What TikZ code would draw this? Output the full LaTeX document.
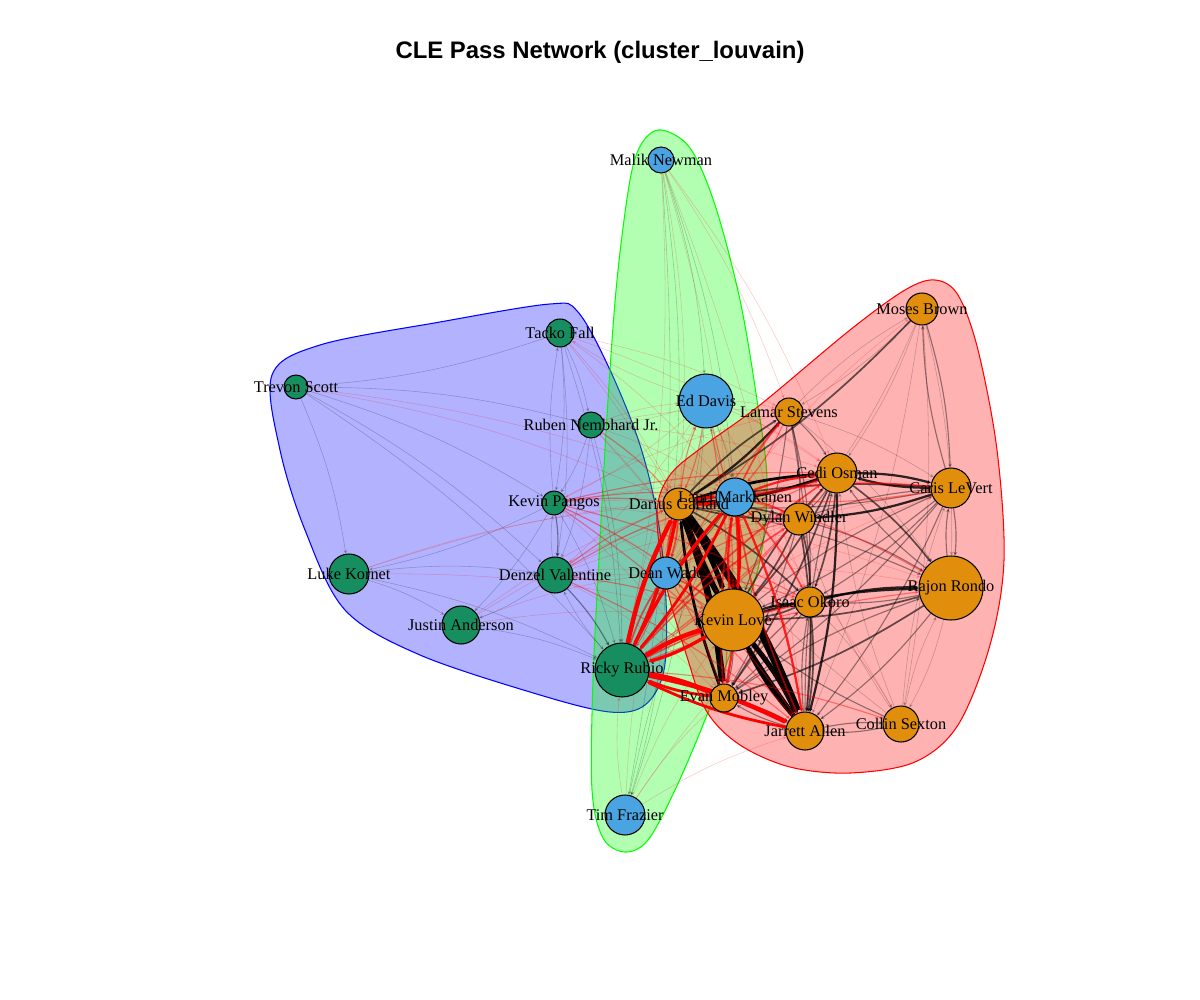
\documentclass[tikz,border=0pt]{standalone}
\usepackage{fontspec}
\setmainfont{Liberation Serif}
\newfontfamily\titlefont{Liberation Sans}
\usetikzlibrary{arrows.meta}
\definecolor{cOrange}{HTML}{E08E0B}
\definecolor{cBlue}{HTML}{4AA4E2}
\definecolor{cGreen}{HTML}{168E60}
\pgfdeclarelayer{hulls}
\pgfdeclarelayer{edges}
\pgfdeclarelayer{labels}
\pgfsetlayers{hulls,edges,main,labels}

\def\players{%
newman/661/160/13/cBlue/Malik Newman,
davis/706/401/27/cBlue/Ed Davis,
markkanen/735/497/19/cBlue/Lauri Markkanen,
wade/666/573/16/cBlue/Dean Wade,
frazier/625/815/20/cBlue/Tim Frazier,
stevens/789/412/14/cOrange/Lamar Stevens,
brown/922/309/16/cOrange/Moses Brown,
osman/837/473/20/cOrange/Cedi Osman,
levert/951/488/20/cOrange/Caris LeVert,
garland/679/504/16/cOrange/Darius Garland,
windler/799/519/16/cOrange/Dylan Windler,
rondo/951/588/32/cOrange/Rajon Rondo,
okoro/810/602/15/cOrange/Isaac Okoro,
love/733/620/31/cOrange/Kevin Love,
mobley/724/698/14/cOrange/Evan Mobley,
allen/805/731/19/cOrange/Jarrett Allen,
sexton/901/724/18/cOrange/Collin Sexton,
rubio/622/670/27/cGreen/Ricky Rubio,
fall/560/333/14/cGreen/Tacko Fall,
scott/296/387/12/cGreen/Trevon Scott,
nembhard/591/425/13/cGreen/Ruben Nembhard Jr.,
pangos/554/503/12/cGreen/Kevin Pangos,
kornet/349/574/20/cGreen/Luke Kornet,
valentine/555/575/18/cGreen/Denzel Valentine,
anderson/461/625/19/cGreen/Justin Anderson}

\begin{document}
\begin{tikzpicture}[x=0.02cm, y=-0.02cm,
  player/.style={circle, draw=black, line width=0.6pt, inner sep=0pt},
  tag/.style={font=\fontsize{9.3}{11}\selectfont, inner sep=0pt},
  pass/.style={-{Stealth[length=2.2pt,width=2pt]}, bend left=7},
  hull/.style={line width=0.6pt, fill opacity=0.3}]
\useasboundingbox (0,0) rectangle (1200,1000);

\node[font=\titlefont\bfseries\fontsize{13.6}{16}\selectfont] (title) at (600,52)
  {CLE Pass Network (cluster\_louvain)};

% players
\foreach \n/\x/\y/\r/\c/\t in \players
  \node[player, fill=\c, minimum size=\r*0.04cm] (\n) at (\x,\y) {};

\begin{pgfonlayer}{labels}
\foreach \n/\x/\y/\r/\c/\t in \players
  \node[tag] (\n-tag) at (\n) {\t};
\end{pgfonlayer}

% cluster hulls
\begin{pgfonlayer}{hulls}
\filldraw[hull, draw=blue, fill=blue] plot[smooth cycle, tension=0.55] coordinates
  {(272,375) (320,345) (440,322) (550,304) (578,312) (610,370) (640,445) (658,520)
   (666,600) (664,670) (645,705) (610,712) (540,695) (420,655) (345,610) (305,530) (280,450)};
\filldraw[hull, draw=green, fill=green] plot[smooth cycle, tension=0.55] coordinates
  {(661,130) (690,148) (715,205) (740,300) (757,400) (767,480) (760,560) (735,640)
   (705,720) (675,790) (648,840) (625,852) (603,838) (592,790) (593,680) (600,540)
   (608,400) (617,280) (630,180) (642,143)};
\filldraw[hull, draw=red, fill=red] plot[smooth cycle, tension=0.55] coordinates
  {(935,280) (958,295) (978,350) (997,450) (1004,560) (990,645) (958,725) (915,762)
   (850,773) (790,767) (740,745) (707,712) (688,660) (665,580) (657,512) (670,475)
   (705,445) (760,405) (850,330) (905,290)};
\end{pgfonlayer}

\begin{pgfonlayer}{edges}
% passes inside a cluster
\foreach \a/\b/\w [evaluate=\w as \lw using 0.32*\w,
                   evaluate=\w as \op using {min(1,0.02+0.2*\w)}] in {
  garland/allen/15, allen/garland/8, garland/mobley/12, mobley/garland/5,
  garland/love/9, love/garland/6, love/allen/9, allen/love/5,
  osman/garland/5, garland/osman/5, stevens/garland/4, garland/stevens/3,
  brown/garland/3, love/okoro/4, okoro/love/3, love/rondo/4, rondo/love/3,
  okoro/rondo/4, rondo/okoro/2, osman/levert/4, levert/osman/4,
  levert/windler/4, windler/levert/2, osman/allen/4, allen/osman/2,
  osman/okoro/3, osman/mobley/3, osman/love/3, love/osman/3,
  windler/allen/3, windler/okoro/3, windler/rondo/2, okoro/allen/3,
  allen/okoro/2, rondo/allen/2, rondo/mobley/3, levert/rondo/2, rondo/levert/2,
  levert/allen/2, levert/okoro/2, levert/mobley/2, levert/love/2,
  sexton/allen/2, allen/sexton/2, sexton/rondo/1, sexton/love/2, sexton/osman/1,
  sexton/levert/1, sexton/garland/1, sexton/windler/1, brown/levert/2,
  levert/brown/2, brown/stevens/1, brown/osman/1, brown/rondo/1, brown/allen/1,
  brown/windler/1, brown/sexton/1, stevens/osman/2, stevens/okoro/2,
  stevens/love/2, stevens/allen/2, stevens/windler/2, stevens/levert/1,
  stevens/rondo/1, stevens/brown/1, mobley/allen/3, allen/mobley/2,
  mobley/okoro/2, love/mobley/2, garland/windler/3, windler/garland/3,
  garland/okoro/3, garland/rondo/2, garland/levert/3, levert/garland/2,
  osman/windler/2, osman/rondo/3, rondo/osman/2, windler/love/3,
  windler/mobley/2, okoro/mobley/2, okoro/sexton/1, rondo/sexton/1,
  love/levert/2, mobley/rondo/2,
  fall/pangos/1, pangos/fall/1, fall/valentine/1, fall/nembhard/1, fall/rubio/1,
  fall/scott/1, nembhard/pangos/1, nembhard/valentine/1, nembhard/rubio/1,
  pangos/valentine/2, valentine/pangos/1, pangos/rubio/1, pangos/anderson/1,
  pangos/kornet/1, valentine/rubio/2, rubio/valentine/1, valentine/anderson/1,
  anderson/rubio/1, kornet/valentine/1, kornet/rubio/1, scott/pangos/1,
  scott/valentine/1, scott/rubio/1, scott/nembhard/1, kornet/anderson/1,
  scott/kornet/1,
  davis/markkanen/1, markkanen/davis/1, davis/wade/1, markkanen/wade/2,
  wade/markkanen/1, wade/frazier/1, frazier/markkanen/1, newman/davis/1,
  newman/frazier/1, newman/markkanen/1, newman/wade/1, davis/frazier/1}
  \draw[pass, black, line width=\lw pt, opacity=\op] (\a) to (\b);

% passes between clusters
\foreach \a/\b/\w [evaluate=\w as \lw using 0.32*\w,
                   evaluate=\w as \op using {min(1,0.02+0.2*\w)}] in {
  rubio/garland/8, garland/rubio/6, rubio/love/8, love/rubio/6,
  rubio/mobley/8, mobley/rubio/5, rubio/allen/8, allen/rubio/5,
  rubio/markkanen/6, markkanen/rubio/5, rubio/wade/3, wade/rubio/2,
  rubio/osman/3, osman/rubio/2, rubio/okoro/3, rubio/windler/3,
  windler/rubio/2, rubio/stevens/2, rubio/rondo/2, rubio/levert/1,
  rubio/sexton/2, rubio/davis/1,
  markkanen/garland/5, garland/markkanen/5, markkanen/love/5, love/markkanen/4,
  markkanen/allen/4, allen/markkanen/3, markkanen/osman/4, osman/markkanen/3,
  markkanen/okoro/3, markkanen/mobley/4, mobley/markkanen/3, markkanen/windler/3,
  markkanen/stevens/3, stevens/markkanen/2, markkanen/levert/3,
  levert/markkanen/2, markkanen/rondo/2, markkanen/sexton/1, markkanen/brown/1,
  wade/garland/3, garland/wade/3, wade/love/3, love/wade/2, wade/okoro/2,
  wade/allen/2, wade/mobley/2, wade/osman/2, wade/stevens/1, wade/windler/2,
  wade/rondo/1, wade/levert/1,
  davis/garland/2, garland/davis/2, davis/love/2, davis/allen/1, davis/okoro/1,
  davis/stevens/1, davis/mobley/2, davis/osman/1, davis/pangos/1,
  davis/valentine/1, davis/fall/1, davis/nembhard/1,
  pangos/garland/2, pangos/love/2, pangos/okoro/2, pangos/allen/2,
  pangos/stevens/1, pangos/osman/2, pangos/levert/1, pangos/markkanen/2,
  pangos/windler/1, pangos/mobley/1, pangos/rondo/1, pangos/wade/1,
  valentine/garland/2, valentine/love/2, valentine/allen/2,
  valentine/markkanen/2, valentine/okoro/1, valentine/windler/1,
  valentine/osman/1, valentine/mobley/1, valentine/wade/1,
  nembhard/garland/2, nembhard/love/1, nembhard/allen/1, nembhard/stevens/1,
  nembhard/markkanen/1, nembhard/osman/1, nembhard/davis/1,
  fall/garland/1, fall/osman/1, fall/markkanen/1, fall/love/1, fall/stevens/1,
  anderson/markkanen/1, anderson/garland/1, anderson/love/1, anderson/wade/1,
  newman/garland/1, newman/love/1, newman/stevens/1, newman/allen/1,
  newman/rubio/1, newman/osman/1,
  frazier/love/1, frazier/garland/1, frazier/allen/1, frazier/rubio/1,
  frazier/mobley/1, frazier/okoro/1,
  scott/garland/1, scott/markkanen/1, kornet/garland/1, kornet/love/1,
  kornet/markkanen/1}
  \draw[pass, red, line width=\lw pt, opacity=\op] (\a) to (\b);
\end{pgfonlayer}

\end{tikzpicture}
\end{document}
